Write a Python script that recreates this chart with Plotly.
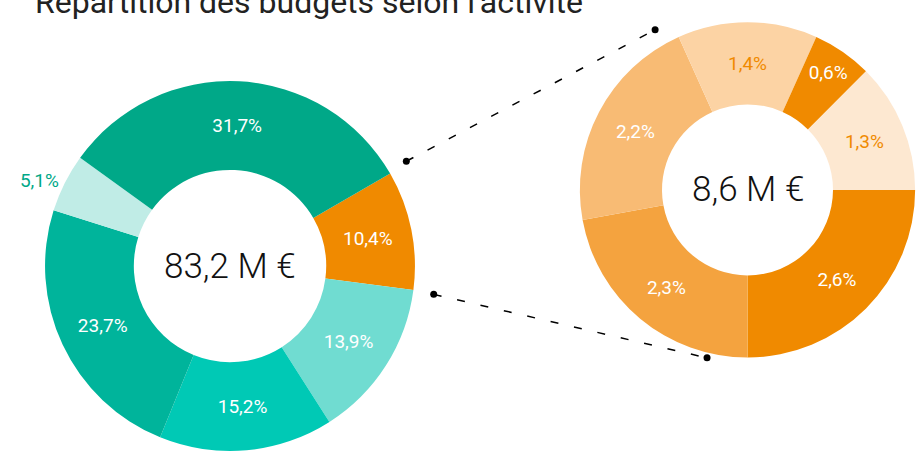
import math
import plotly.graph_objects as go

W, H = 917, 456

# ---- data ----
title_text = "Répartition des budgets selon l'activité"
main_values = [10.4, 13.9, 15.2, 23.7, 5.1, 31.7]
main_colors = ["#F08A00", "#70DCD1", "#00C9B5", "#00B49B", "#C0ECE6", "#00A888"]
main_total = "83,2 M €"
main_text_colors = ["white", "white", "white", "white", "#00A888", "white"]
main_positions = ["inside", "inside", "inside", "inside", "outside", "inside"]

sub_values = [2.6, 2.3, 2.2, 1.4, 0.6, 1.3]
sub_colors = ["#F08A00", "#F4A33F", "#F8BB74", "#FCD3A4", "#F08A00", "#FDE8D1"]
sub_total = "8,6 M €"
sub_text_colors = ["white", "white", "white", "#F08A00", "white", "#F08A00"]


def fmt(v):
    return f"{v:.1f}".replace(".", ",") + "%"


# ---- geometry (pixels) ----
L_cx, L_cy, L_r = 230, 269, 187
R_cx, R_cy, R_r = 747.5, 192, 169.5

LABEL_FONT = "Roboto, sans-serif"

fig = go.Figure()

fig.add_trace(go.Pie(
    values=main_values,
    text=[fmt(v) for v in main_values],
    textinfo="text",
    hoverinfo="skip",
    sort=False,
    direction="clockwise",
    rotation=60,
    hole=0.52,
    marker=dict(colors=main_colors, line=dict(width=0)),
    textposition=main_positions,
    insidetextorientation="horizontal",
    textfont=dict(family=LABEL_FONT, size=19, color=main_text_colors),
    domain=dict(x=[(L_cx - L_r) / W, (L_cx + L_r) / W],
                y=[(H - L_cy - L_r) / H, (H - L_cy + L_r) / H]),
    showlegend=False,
))

fig.add_trace(go.Pie(
    values=sub_values,
    text=[fmt(v) for v in sub_values],
    textinfo="text",
    hoverinfo="skip",
    sort=False,
    direction="clockwise",
    rotation=90,
    hole=0.51,
    marker=dict(colors=sub_colors, line=dict(width=0)),
    textposition="inside",
    insidetextorientation="horizontal",
    textfont=dict(family=LABEL_FONT, size=19, color=sub_text_colors),
    domain=dict(x=[(R_cx - R_r) / W, min(1, (R_cx + R_r) / W)],
                y=[(H - R_cy - R_r) / H, (H - R_cy + R_r) / H]),
    showlegend=False,
))


def polar(cx, cy, r, ang):
    a = math.radians(ang)
    return cx + r * math.sin(a), cy - r * math.cos(a)


# connectors from the 10,4 % slice edges to the detail donut
conn = [
    (polar(L_cx, L_cy, L_r * 1.1, 59), polar(R_cx, R_cy, R_r * 1.1, 330.3)),
    (polar(L_cx, L_cy, L_r * 1.1, 98), polar(R_cx, R_cy, R_r * 1.03, 193.4)),
]
for (x0, y0), (x1, y1) in conn:
    fig.add_trace(go.Scatter(
        x=[x0, x1], y=[y0, y1], mode="lines+markers",
        line=dict(color="black", width=1.5, dash="8px,16px"),
        marker=dict(color="black", size=7),
        hoverinfo="skip", showlegend=False,
    ))

fig.add_annotation(x=L_cx, y=L_cy, xref="x", yref="y", text=main_total,
                   showarrow=False,
                   font=dict(family=LABEL_FONT, size=35, color="#111", weight=300))
fig.add_annotation(x=R_cx, y=R_cy, xref="x", yref="y", text=sub_total,
                   showarrow=False,
                   font=dict(family=LABEL_FONT, size=35, color="#111", weight=300))

fig.add_annotation(x=33 / W, y=1 - 2 / H, xref="paper", yref="paper", text=title_text,
                   xanchor="left", yanchor="middle", showarrow=False,
                   font=dict(family="Roboto", size=32, color="#222"))

fig.update_layout(
    width=W, height=H,
    margin=dict(l=0, r=0, t=0, b=0),
    paper_bgcolor="white", plot_bgcolor="rgba(0,0,0,0)",
    xaxis=dict(range=[0, W], visible=False, fixedrange=True),
    yaxis=dict(range=[H, 0], visible=False, fixedrange=True),
)

fig.write_html("out.html")
